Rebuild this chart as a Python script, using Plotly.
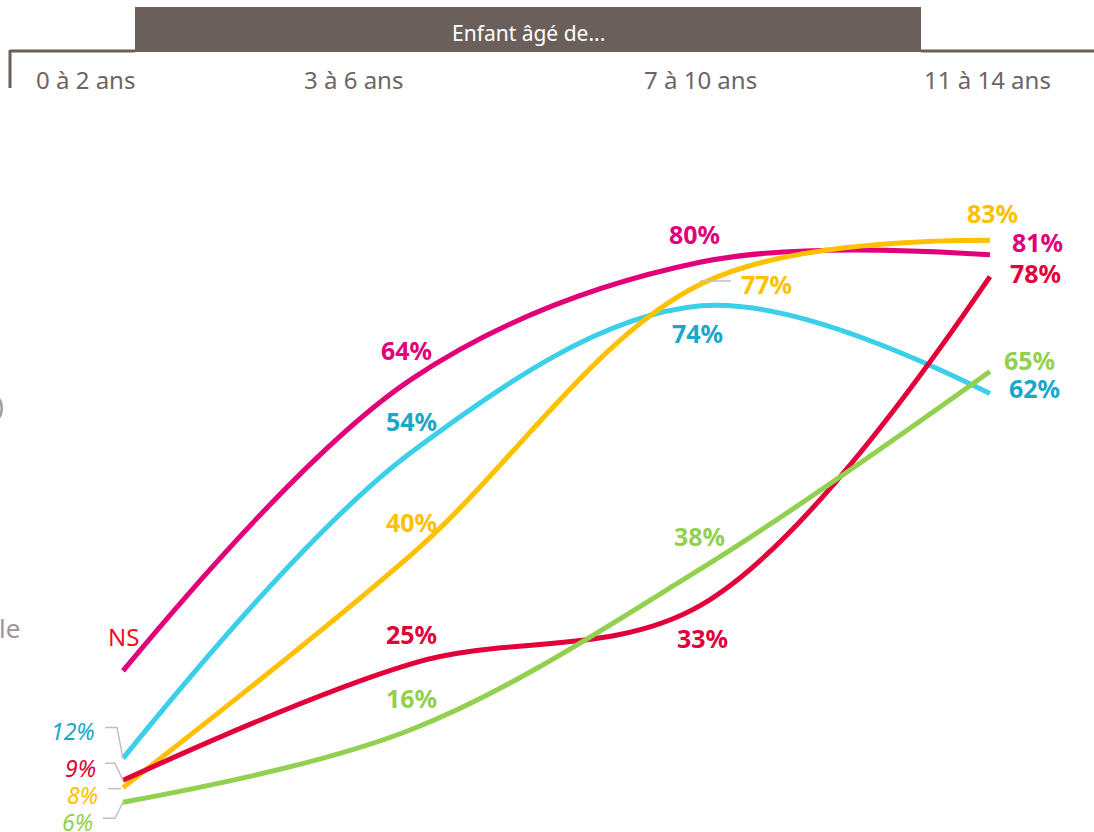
import plotly.graph_objects as go

# ---- data ----
categories = ["0 à 2 ans", "3 à 6 ans", "7 à 10 ans", "11 à 14 ans"]
header_title = "Enfant âgé de..."
series_pink = [24, 64, 80, 81]     # first value not significant (NS)
series_blue = [12, 54, 74, 62]
series_yellow = [8, 40, 77, 83]
series_red = [9, 25, 33, 78]
series_green = [6, 16, 38, 65]
pink_first_label = "NS"

# ---- styles ----
C_PINK, C_BLUE_LINE, C_BLUE_TXT = "#e2007a", "#3bcfea", "#1aa7c9"
C_YELLOW, C_RED, C_GREEN = "#ffc000", "#e3003a", "#92d050"
C_HEAD = "#6b5f5c"
C_CONN = "#c4bebe"
FONT = "Noto Sans"

series = [
    # values, line colour, text colour, label offsets (dx px, dy px up) per point
    (series_pink, C_PINK, C_PINK, [(1, 34), (-5, 29), (-6, 28), (48, 13)]),
    (series_blue, C_BLUE_LINE, C_BLUE_TXT, [(-50, 27), (0, 31), (-3, -27), (45, 5)]),
    (series_yellow, C_YELLOW, C_YELLOW, [(-40, -7), (0, 32), (66, 0), (3, 27)]),
    (series_red, C_RED, C_RED, [(-42, 12), (0, 30), (2, -33), (46, 4)]),
    (series_green, C_GREEN, C_GREEN, [(-45, -20), (0, 31), (-1, 33), (40, 12)]),
]

xs = list(range(len(categories)))
fig = go.Figure()
annotations = []
for vals, lc, tc, offs in series:
    fig.add_trace(go.Scatter(
        x=xs, y=vals, mode="lines",
        line=dict(color=lc, width=5, shape="spline", smoothing=1.0),
        hoverinfo="skip", showlegend=False))
    for i, (v, (dx, dy)) in enumerate(zip(vals, offs)):
        common = dict(x=i, y=v, xref="x", yref="y", showarrow=False, xshift=dx, yshift=dy,
                      xanchor="center", yanchor="middle", borderpad=0)
        if i == 0:
            if vals is series_pink:
                annotations.append(dict(text=pink_first_label,
                                        font=dict(family=FONT, size=24, color="#f0101e"), **common))
            else:
                annotations.append(dict(text=f"<i>{v}%</i>",
                                        font=dict(family=FONT, size=23, color=tc), **common))
        else:
            annotations.append(dict(text=f"<b>{v}%</b>",
                                    font=dict(family=FONT, size=25, color=tc), **common))

shapes = []
# connectors for start labels (pixel paths anchored on data points)
conn_paths = [
    (series_blue[0], 0, "M -18,31 L -6,31 L 0,0"),
    (series_red[0], 0, "M -18,17 L -8,17 L 0,0"),
    (series_yellow[0], 0, "M -15,-1 L -2,-1"),
    (series_green[0], 0, "M -20,-16 L -8,-16 L 0,0"),
    (series_yellow[2], 2, "M -1,3 L 30,3"),
]
for v, i, p in conn_paths:
    shapes.append(dict(type="path", xref="x", yref="y", xsizemode="pixel", ysizemode="pixel",
                       xanchor=i, yanchor=v, path=p,
                       line=dict(color=C_CONN, width=1.5)))

W, H = 1094, 832
# header band and bracket lines
shapes.append(dict(type="rect", xref="paper", yref="paper",
                   x0=135 / W, x1=921 / W, y0=1 - 52 / H, y1=1 - 7 / H,
                   fillcolor=C_HEAD, line=dict(width=0), layer="above"))
shapes.append(dict(type="line", xref="paper", yref="paper",
                   x0=10 / W, x1=135 / W, y0=1 - 51 / H, y1=1 - 51 / H,
                   line=dict(color=C_HEAD, width=3)))
shapes.append(dict(type="line", xref="paper", yref="paper",
                   x0=921 / W, x1=1, y0=1 - 51 / H, y1=1 - 51 / H,
                   line=dict(color=C_HEAD, width=3)))
shapes.append(dict(type="line", xref="paper", yref="paper",
                   x0=10 / W, x1=10 / W, y0=1 - 50 / H, y1=1 - 88 / H,
                   line=dict(color=C_HEAD, width=3)))

annotations.append(dict(x=528 / W, y=1 - 33 / H, xref="paper", yref="paper", text=header_title,
                        xanchor="center", yanchor="middle",
                        showarrow=False, font=dict(family=FONT, size=21, color="white")))
tick_px = [85, 353, 700, 987]
for c, px in zip(categories, tick_px):
    annotations.append(dict(x=px / W, y=1 - 79 / H, xref="paper", yref="paper", text=c,
                            xanchor="center", yanchor="middle",
                            showarrow=False, font=dict(family=FONT, size=24, color="#6e6463")))
# cut-off fragments at left edge
annotations.append(dict(x=0, y=1 - 405 / H, xref="paper", yref="paper", text=")",
                        xanchor="right", yanchor="middle", xshift=6, showarrow=False,
                        font=dict(family=FONT, size=26, color="#a0959a")))
annotations.append(dict(x=0, y=1 - 628 / H, xref="paper", yref="paper", text="le",
                        xanchor="left", yanchor="middle", xshift=-3, showarrow=False,
                        font=dict(family=FONT, size=26, color="#a0959a")))

fig.update_layout(
    width=W, height=H,
    margin=dict(l=0, r=0, t=0, b=0, autoexpand=False),
    paper_bgcolor="white", plot_bgcolor="white",
    xaxis=dict(range=[-0.4256, 3.360], visible=False, fixedrange=True),
    yaxis=dict(range=[1.92, 115.9], visible=False, fixedrange=True),
    shapes=shapes, annotations=annotations,
)
fig.write_html("out.html", config={"displayModeBar": False},
               post_script="document.body.style.margin='0';")
